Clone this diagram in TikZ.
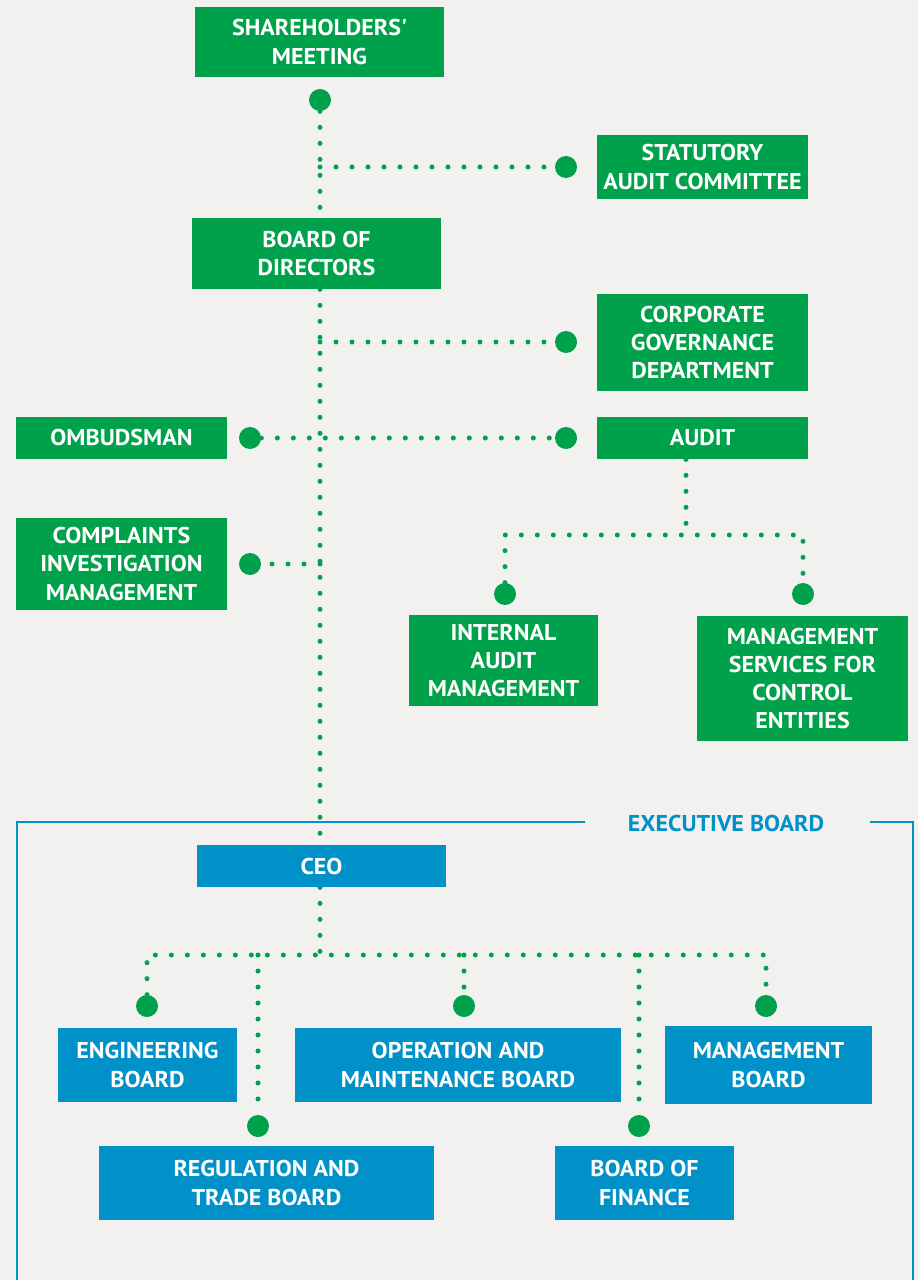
\documentclass[tikz,border=0pt]{standalone}
\usepackage{fontspec}
\setmainfont[FakeStretch=1.05]{PT Sans}
\usetikzlibrary{backgrounds}

\definecolor{orggreen}{HTML}{00A14B}
\definecolor{orgblue}{HTML}{0091C8}
\definecolor{paper}{HTML}{F2F1EF}

\tikzset{
	unit/.style={rectangle, inner sep=0pt, align=center, text=white,
		font=\bfseries\fontsize{13}{16}\selectfont},
	greenbox/.style={unit, fill=orggreen},
	bluebox/.style={unit, fill=orgblue},
	bigdot/.style={circle, fill=orggreen, minimum size=0.44cm, inner sep=0pt},
	dots/.style={orggreen, line width=0.1cm, line cap=round, dash pattern=on 0pt off 0.32cm},
}

\begin{document}
\begin{tikzpicture}[x=0.02cm, y=-0.02cm]
			\useasboundingbox (0,0) rectangle (918,1280);

			% governing bodies
			\node [greenbox, minimum width=4.98cm, minimum height=1.4cm] (sh) at (319.5,42) {SHAREHOLDERS\textquotesingle\\MEETING};
			\node [greenbox, minimum width=4.22cm, minimum height=1.28cm] (sac) at (702.5,167) {STATUTORY\\AUDIT COMMITTEE};
			\node [greenbox, minimum width=4.98cm, minimum height=1.42cm] (board) at (316.5,253.5) {BOARD OF\\DIRECTORS};
			\node [greenbox, minimum width=4.22cm, minimum height=1.94cm] (cg) at (702.5,342.5) {CORPORATE\\GOVERNANCE\\DEPARTMENT};
			\node [greenbox, minimum width=4.22cm, minimum height=0.84cm] (audit) at (702.5,438) {AUDIT};
			\node [greenbox, minimum width=4.22cm, minimum height=0.84cm] (omb) at (121.5,438) {OMBUDSMAN};
			\node [greenbox, minimum width=4.22cm, minimum height=1.84cm] (cim) at (121.5,564) {COMPLAINTS\\INVESTIGATION\\MANAGEMENT};
			\node [greenbox, minimum width=3.78cm, minimum height=1.82cm] (ia) at (503.5,660.5) {INTERNAL\\AUDIT\\MANAGEMENT};
			\node [greenbox, minimum width=4.22cm, minimum height=2.5cm] (msc) at (802.5,678.5) {MANAGEMENT\\SERVICES FOR\\CONTROL\\ENTITIES};

			% executive board
			\node [bluebox, minimum width=4.98cm, minimum height=0.84cm] (ceo) at (321.5,866) {CEO};
			\node [bluebox, minimum width=3.58cm, minimum height=1.48cm] (eng) at (147.5,1065) {ENGINEERING\\BOARD};
			\node [bluebox, minimum width=6.52cm, minimum height=1.48cm] (op) at (458,1065) {OPERATION AND\\MAINTENANCE BOARD};
			\node [bluebox, minimum width=4.14cm, minimum height=1.56cm] (mb) at (768.5,1065) {MANAGEMENT\\BOARD};
			\node [bluebox, minimum width=6.7cm, minimum height=1.48cm] (reg) at (266.5,1183) {REGULATION AND\\TRADE BOARD};
			\node [bluebox, minimum width=3.58cm, minimum height=1.48cm] (fin) at (644.5,1183) {BOARD OF\\FINANCE};

			\node [text=orgblue, font=\bfseries\fontsize{13}{16}\selectfont] (exec) at (726,823) {EXECUTIVE BOARD};
			\draw [orgblue, line width=0.05cm] (585,822) -- (17,822) -- (17,1290);
			\draw [orgblue, line width=0.05cm] (870,822) -- (913,822) -- (913,1290);

			% connection dots
			\node [bigdot] (d-sh) at (320,100) {};
			\node [bigdot] (d-sac) at (566,167) {};
			\node [bigdot] (d-cg) at (566,342) {};
			\node [bigdot] (d-aud) at (566,438) {};
			\node [bigdot] (d-omb) at (250,438) {};
			\node [bigdot] (d-cim) at (250,564) {};
			\node [bigdot] (d-ia) at (505,594) {};
			\node [bigdot] (d-msc) at (803,594) {};
			\node [bigdot] (d-eng) at (147,1006) {};
			\node [bigdot] (d-op) at (464,1006) {};
			\node [bigdot] (d-mb) at (766,1006) {};
			\node [bigdot] (d-reg) at (258,1126) {};
			\node [bigdot] (d-fin) at (639,1126) {};

			\coordinate (a-mid) at (686,535);
			\coordinate (c-mid) at (320,955);

			\begin{scope}[on background layer]
				\fill [paper] (0,0) rectangle (918,1280);

				% main line
				\draw [dots] (d-sh) -- (d-sh |- board.north);
				\draw [dots] (d-sh |- board.south) -- (d-sh |- ceo.north);
				\draw [dots] (d-sh |- d-sac) -- (d-sac);
				\draw [dots] (d-sh |- d-cg) -- (d-cg);
				\draw [dots] (d-omb) -- (d-aud);
				\draw [dots] (d-sh |- d-cim) -- (d-cim);

				% audit branch
				\draw [dots] (a-mid |- audit.south) -- (a-mid);
				\draw [dots] (d-ia) -- (d-ia |- a-mid) -- (d-msc |- a-mid) -- (d-msc);

				% ceo branch
				\draw [dots] (c-mid |- ceo.south) -- (c-mid);
				\draw [dots] (d-eng) -- (d-eng |- c-mid) -- (d-mb |- c-mid) -- (d-mb);
				\draw [dots] (d-reg |- c-mid) -- (d-reg);
				\draw [dots] (d-op |- c-mid) -- (d-op);
				\draw [dots] (d-fin |- c-mid) -- (d-fin);
			\end{scope}
		\end{tikzpicture}
\end{document}
